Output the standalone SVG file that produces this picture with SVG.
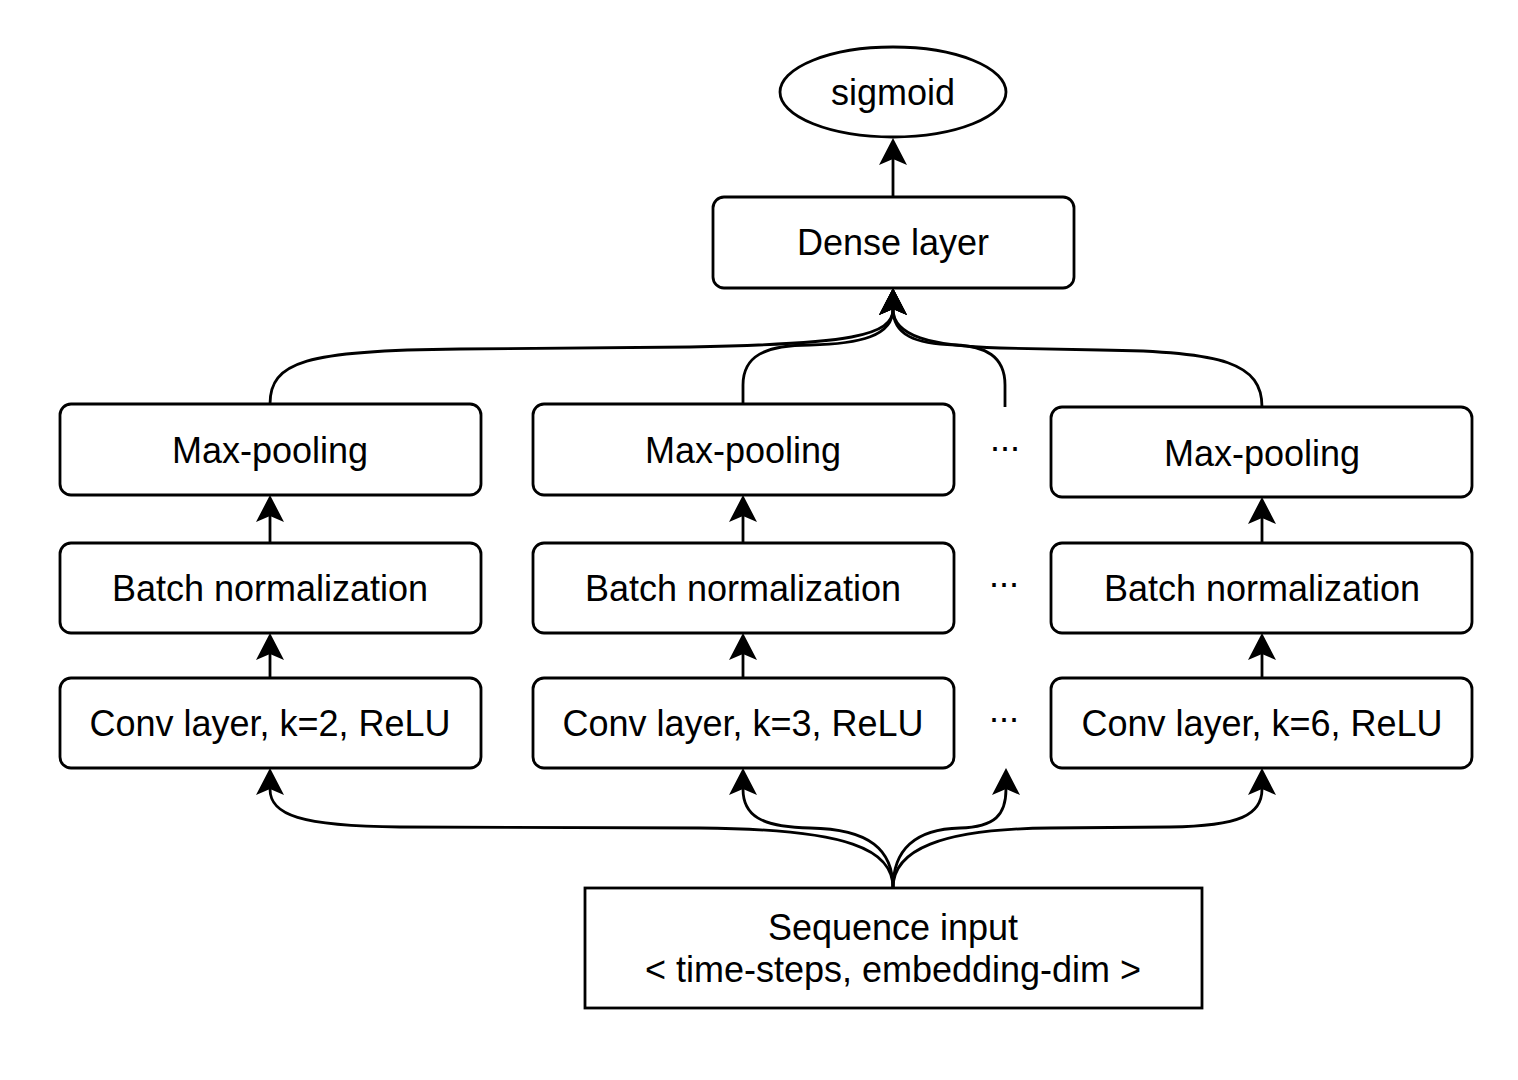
<svg xmlns="http://www.w3.org/2000/svg" width="1518" height="1080" viewBox="0 0 1518 1080">
<style>
.box{fill:#fff;stroke:#000;stroke-width:2.8}
.lbl{font-family:"Liberation Sans",Arial,Helvetica,sans-serif;font-size:36px;fill:#000;text-anchor:middle}
.edge{fill:none;stroke:#000;stroke-width:2.8;marker-end:url(#arr)}
</style>
<defs>
<marker id="arr" viewBox="-7 -15 29 30" markerWidth="29" markerHeight="30" refX="0" refY="0" orient="auto" markerUnits="userSpaceOnUse">
<path d="M21,0 L-6,-14 L0,0 L-6,14 Z" fill="#000"/>
</marker>
</defs>
<rect width="1518" height="1080" fill="#fff"/>
<g id="connectors">
<path class="edge" d="M893,197 L893,159"/>
<path class="edge" d="M270,404 C270,362 305,350 460,349 L690,347 C850,344 893,336 893,309"/>
<path class="edge" d="M743,404 L743,385 C743,356 765,345 810,345 C860,344 893,336 893,309"/>
<path class="edge" d="M1005,407 L1005,385 C1005,356 985,346 955,345 C915,344 893,335 893,309"/>
<path class="edge" d="M1262,407 C1262,364 1225,351 1100,350 L1000,348 C930,346 893,336 893,309"/>
<path class="edge" d="M270,543 L270,516"/>
<path class="edge" d="M270,678 L270,654"/>
<path class="edge" d="M743,543 L743,516"/>
<path class="edge" d="M743,678 L743,654"/>
<path class="edge" d="M1262,543 L1262,518"/>
<path class="edge" d="M1262,678 L1262,654"/>
<path class="edge" d="M893,888 C893,850 850,829 700,828 L400,827 C300,826 270,815 270,789"/>
<path class="edge" d="M893,888 C893,850 870,829 810,828 C760,827 743,815 743,789"/>
<path class="edge" d="M893,888 C893,850 915,829 960,828 C995,827 1006,815 1006,789"/>
<path class="edge" d="M893,888 C893,850 940,829 1050,828 L1170,827 C1240,826 1262,815 1262,789"/>
</g>
<g id="sigmoid">
<ellipse class="box" cx="893" cy="92" rx="113" ry="45"/>
<text class="lbl" x="893" y="105">sigmoid</text>
</g>
<g id="dense">
<rect class="box" x="713" y="197" width="361" height="91" rx="11"/>
<text class="lbl" x="893" y="255">Dense layer</text>
</g>
<g id="maxpool1">
<rect class="box" x="60" y="404" width="421" height="91" rx="11"/>
<text class="lbl" x="270" y="463">Max-pooling</text>
</g>
<g id="batchnorm1">
<rect class="box" x="60" y="543" width="421" height="90" rx="11"/>
<text class="lbl" x="270" y="601">Batch normalization</text>
</g>
<g id="conv1">
<rect class="box" x="60" y="678" width="421" height="90" rx="11"/>
<text class="lbl" x="270" y="736">Conv layer, k=2, ReLU</text>
</g>
<g id="maxpool2">
<rect class="box" x="533" y="404" width="421" height="91" rx="11"/>
<text class="lbl" x="743" y="463">Max-pooling</text>
</g>
<g id="batchnorm2">
<rect class="box" x="533" y="543" width="421" height="90" rx="11"/>
<text class="lbl" x="743" y="601">Batch normalization</text>
</g>
<g id="conv2">
<rect class="box" x="533" y="678" width="421" height="90" rx="11"/>
<text class="lbl" x="743" y="736">Conv layer, k=3, ReLU</text>
</g>
<g id="maxpool3">
<rect class="box" x="1051" y="407" width="421" height="90" rx="11"/>
<text class="lbl" x="1262" y="466">Max-pooling</text>
</g>
<g id="batchnorm3">
<rect class="box" x="1051" y="543" width="421" height="90" rx="11"/>
<text class="lbl" x="1262" y="601">Batch normalization</text>
</g>
<g id="conv3">
<rect class="box" x="1051" y="678" width="421" height="90" rx="11"/>
<text class="lbl" x="1262" y="736">Conv layer, k=6, ReLU</text>
</g>
<g id="dots">
<text class="lbl" x="1005" y="451">...</text>
<text class="lbl" x="1004" y="587">...</text>
<text class="lbl" x="1004" y="722">...</text>
</g>
<g id="input">
<rect x="585" y="888" width="617" height="120" fill="#fff" stroke="#000" stroke-width="2.8"/>
<text class="lbl" x="893" y="940">Sequence input</text>
<text class="lbl" x="893" y="982">&lt; time-steps, embedding-dim &gt;</text>
</g>
</svg>
